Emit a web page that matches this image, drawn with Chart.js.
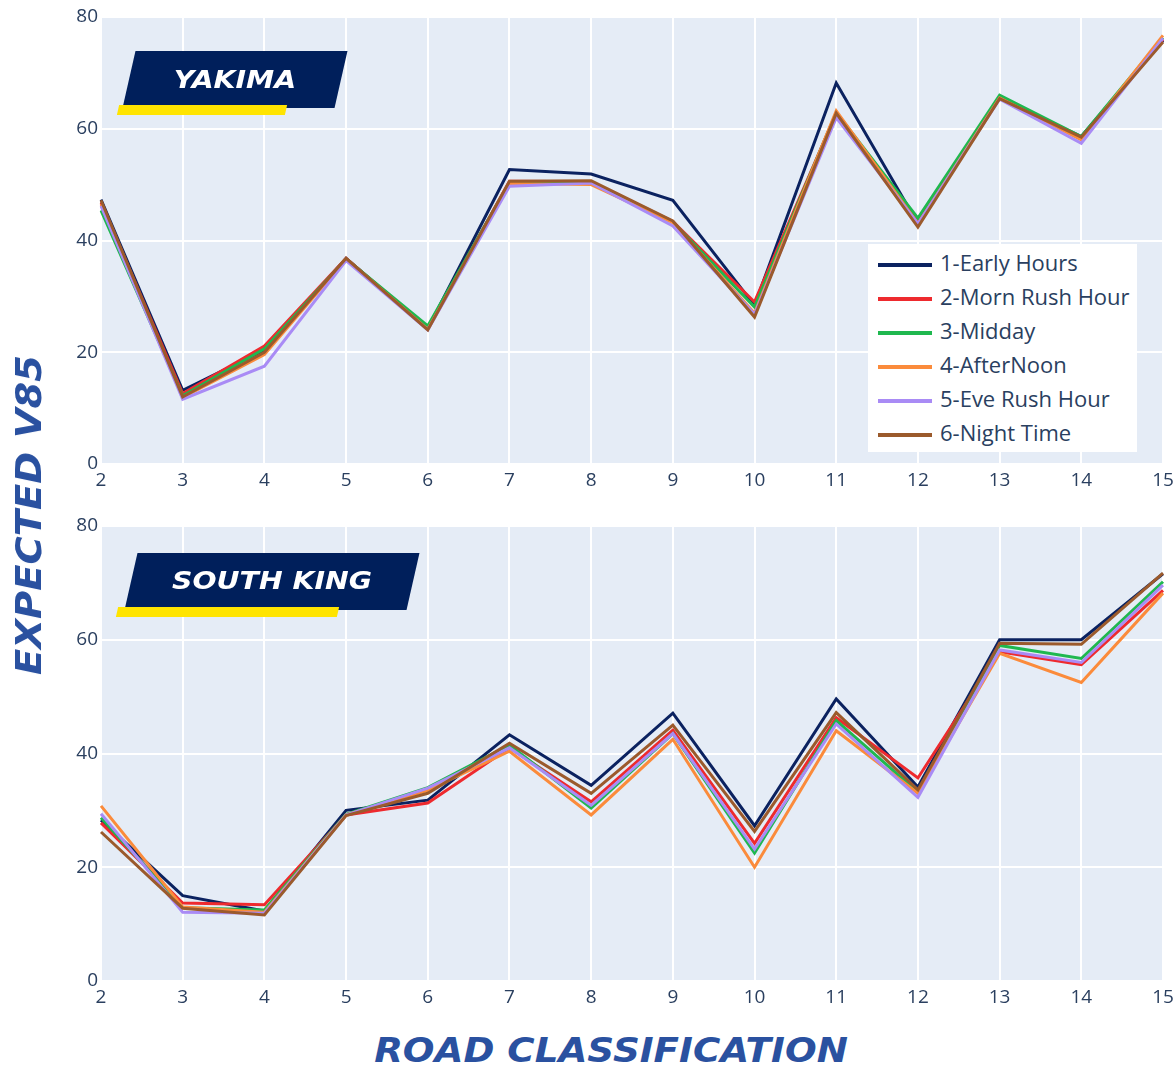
<!DOCTYPE html>
<html>
<head>
<meta charset="utf-8">
<script src="https://cdn.jsdelivr.net/npm/chart.js@4.4.1/dist/chart.umd.min.js"></script>
<style>
    body { margin: 0; background: #fff; width: 1175px; height: 1066px; position: relative; overflow: hidden; }
    canvas { position: absolute; left: 0; }
    .badge { position: absolute; background: #001f5b; transform: skewX(-12.8deg); }
    .bar { position: absolute; background: #ffe400; transform: skewX(-12.8deg); height: 10px; }
    .badgeText { position: absolute; color: #fff; font: italic bold 24px "DejaVu Sans"; transform: translate(-50%, -50%) scaleX(1.18); white-space: nowrap; }
    .axisTitle { position: absolute; color: #2a51a0; font: italic bold 33px "DejaVu Sans"; white-space: nowrap; }
    #legend { position: absolute; left: 868px; top: 244px; width: 269px; height: 208px; background: #fff; }
    .item { position: absolute; left: 10px; height: 34px; font: 22px "Open Sans"; color: #2a3f5f; }
    .item span.sw { position: absolute; left: 0; top: 17px; width: 54px; height: 4px; }
    .item span.lb { position: absolute; left: 62px; top: 1px; white-space: nowrap; }
</style>
</head>
<body>
<canvas id="chart" width="1175" height="500" style="top:0"></canvas>
<canvas id="chart2" width="1175" height="520" style="top:500px"></canvas>

<div class="badge" style="left:129px; top:51px; width:212px; height:57px"></div>
<div class="bar" style="left:118px; top:105px; width:168px"></div>
<div class="badgeText" style="left:235px; top:80px">YAKIMA</div>

<div class="badge" style="left:131px; top:553px; width:282px; height:57px"></div>
<div class="bar" style="left:117px; top:607px; width:221px"></div>
<div class="badgeText" style="left:272px; top:581px">SOUTH KING</div>

<div class="axisTitle" style="left:29px; top:515px; font-size:35px; transform: translate(-50%, -50%) rotate(-90deg) scaleX(1.1)">EXPECTED V85</div>
<div class="axisTitle" style="left:611px; top:1050px; transform: translate(-50%, -50%) scaleX(1.13)">ROAD CLASSIFICATION</div>

<div id="legend"></div>

<script>
var roadClass = ['2', '3', '4', '5', '6', '7', '8', '9', '10', '11', '12', '13', '14', '15'];
var seriesNames = ['1-Early Hours', '2-Morn Rush Hour', '3-Midday', '4-AfterNoon', '5-Eve Rush Hour', '6-Night Time'];
var seriesColors = ['#0b2260', '#ee2a2e', '#1fb84f', '#fb8b3b', '#a98bf5', '#9b5a2c'];
var yTicks = [0, 20, 40, 60, 80];

// Yakima
var yakEarly = [47.3, 13.2, 20.4, 36.8, 24.2, 52.7, 51.9, 47.2, 28.4, 68.2, 43.0, 65.5, 58.6, 75.8];
var yakMorn = [46.8, 12.6, 21.1, 36.8, 24.2, 50.6, 50.5, 43.4, 29.0, 62.8, 43.2, 65.6, 58.4, 76.0];
var yakMidday = [45.4, 12.2, 20.6, 36.7, 24.7, 50.4, 50.5, 43.3, 28.1, 62.9, 44.0, 66.0, 58.6, 76.3];
var yakAfternoon = [46.5, 11.9, 19.6, 36.7, 24.1, 50.2, 50.0, 43.2, 27.0, 63.2, 43.0, 65.5, 58.0, 76.7];
var yakEve = [46.2, 11.6, 17.5, 36.4, 24.0, 49.7, 50.3, 42.6, 26.8, 62.0, 43.0, 65.3, 57.4, 76.2];
var yakNight = [47.2, 12.0, 20.0, 36.8, 24.0, 50.6, 50.7, 43.5, 26.3, 62.8, 42.4, 65.4, 58.5, 75.5];

// South King
var skEarly = [28.3, 15.0, 12.3, 30.0, 31.8, 43.3, 34.4, 47.1, 27.3, 49.6, 34.1, 60.0, 60.0, 71.6];
var skMorn = [27.8, 13.7, 13.4, 29.2, 31.3, 41.0, 31.5, 44.1, 24.2, 46.3, 35.7, 57.9, 55.6, 68.7];
var skMidday = [28.7, 12.9, 12.5, 29.3, 34.0, 41.5, 30.4, 43.5, 22.5, 45.8, 33.2, 59.0, 56.7, 70.2];
var skAfternoon = [30.8, 13.0, 12.1, 29.2, 33.5, 40.4, 29.2, 42.5, 20.0, 44.0, 33.0, 57.6, 52.5, 68.2];
var skEve = [29.4, 12.1, 11.9, 29.2, 33.9, 41.0, 30.9, 43.5, 23.2, 45.2, 32.3, 58.2, 56.0, 69.6];
var skNight = [26.2, 12.8, 11.6, 29.1, 33.0, 41.8, 33.0, 45.0, 26.3, 47.2, 33.6, 59.4, 59.2, 71.7];

var yakima = [yakEarly, yakMorn, yakMidday, yakAfternoon, yakEve, yakNight];
var southKing = [skEarly, skMorn, skMidday, skAfternoon, skEve, skNight];

// paints the plotly-like plot background
const plotBg = {
    id: 'plotBg',
    beforeDraw(chart) {
        const a = chart.chartArea;
        chart.ctx.save();
        chart.ctx.fillStyle = '#e5ecf6';
        chart.ctx.fillRect(a.left, a.top, a.right - a.left, a.bottom - a.top);
        chart.ctx.restore();
    }
};

function makeChart(id, series, padTop, xHeight) {
    var datasets = series.map(function (d, i) {
        return {
            label: seriesNames[i],
            data: d,
            borderColor: seriesColors[i],
            backgroundColor: seriesColors[i],
            borderWidth: 3,
            pointRadius: 0,
            tension: 0,
            order: series.length - i
        };
    });

    return new Chart(document.getElementById(id), {
        type: 'line',
        data: { labels: roadClass, datasets: datasets },
        options: {
            responsive: false,
            animation: false,
            layout: { padding: { top: padTop, right: 0, left: 0, bottom: 0 } },
            plugins: { legend: { display: false }, tooltip: { enabled: false } },
            scales: {
                x: {
                    offset: false,
                    grid: { color: '#ffffff', lineWidth: 2, drawTicks: false },
                    border: { display: false },
                    ticks: { color: '#2a3f5f', font: { family: 'Open Sans', size: 19 }, padding: 5, maxRotation: 0, autoSkip: false },
                    afterFit: function (s) { s.height = xHeight; s.paddingRight = 12; }
                },
                y: {
                    min: 0,
                    max: 80,
                    afterBuildTicks: function (s) { s.ticks = yTicks.map(function (v) { return { value: v }; }); },
                    grid: { color: '#ffffff', lineWidth: 2, drawTicks: false },
                    border: { display: false },
                    ticks: { color: '#2a3f5f', font: { family: 'Open Sans', size: 19 }, padding: 3 },
                    afterFit: function (s) { s.width = 101; }
                }
            }
        },
        plugins: [plotBg]
    });
}

makeChart('chart', yakima, 17, 36);
makeChart('chart2', southKing, 26, 39);

// legend box drawn from the series names and colours
var legend = document.getElementById('legend');
seriesNames.forEach(function (name, i) {
    var row = document.createElement('div');
    row.className = 'item';
    row.style.top = (2 + i * 34) + 'px';
    row.innerHTML = '<span class="sw" style="background:' + seriesColors[i] + '"></span><span class="lb">' + name + '</span>';
    legend.appendChild(row);
});
</script>
</body>
</html>
